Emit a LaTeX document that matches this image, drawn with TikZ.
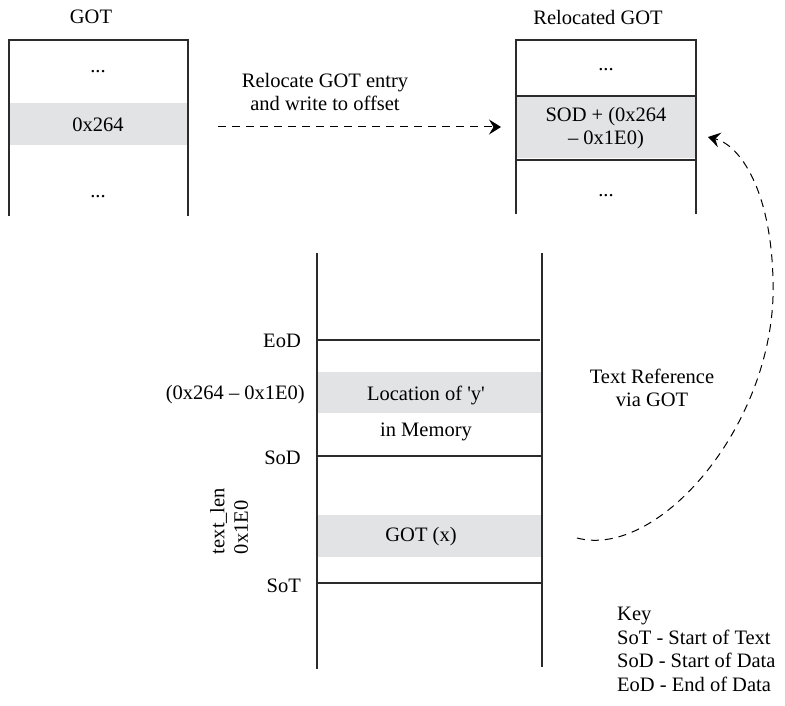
\documentclass[tikz,border=0pt]{standalone}
\usepackage{fontspec}
\setmainfont{Liberation Serif}
\newfontfamily\plainq{Liberation Serif}
\usetikzlibrary{arrows.meta}
\definecolor{lc}{HTML}{2B2B2B}
\definecolor{bandgray}{HTML}{E2E3E4}
\begin{document}
\begin{tikzpicture}[x=1pt,y=-1pt,
  wall/.style={draw=lc,line width=1.1pt},
  band/.style={fill=bandgray},
  lbl/.style={font=\fontsize{20.5}{23.5}\selectfont,inner sep=0pt,align=center,text=black},
  lblr/.style={lbl,anchor=east},
  lbll/.style={lbl,anchor=west,align=left},
  dasharrow/.style={draw=black,line width=1pt,dash pattern=on 8pt off 6pt,
    -{Stealth[length=12pt,width=15pt,inset=4.5pt]}}]
\useasboundingbox (0,0) rectangle (785,706);

% ---------- GOT ----------
\fill[band] (9,103) rectangle (188,145);
\draw[wall] (9,216) -- (9,40) -- (188,40) -- (188,216);
\node[lbl] (gotT) at (91,17) {GOT};
\node[lbl] (gotD1) at (98,72) {...};
\node[lbl] (gotE) at (98,125) {0x264};
\node[lbl] (gotD2) at (98,197) {...};

% ---------- Relocated GOT ----------
\fill[band] (516,96) rectangle (696,158);
\draw[wall] (516,214) -- (516,40) -- (696,40) -- (696,214);
\draw[wall] (516,96) -- (696,96);
\draw[wall] (516,160) -- (696,160);
\node[lbl] (rgotT) at (598,17) {Relocated GOT};
\node[lbl] (rgotD1) at (606,70) {...};
\node[lbl] (rgotE) at (606,128) {SOD + (0x264\\– 0x1E0)};
\node[lbl] (rgotD2) at (606,196) {...};

% ---------- relocate arrow ----------
\node[lbl] (reloc) at (325,92) {Relocate GOT entry\\and write to offset};
\coordinate (relS) at (218,127);
\coordinate (relE) at (501,127);
\draw[dasharrow] (relS) -- (relE);

% ---------- Memory ----------
\fill[band] (317,372) rectangle (542,413);
\fill[band] (317,515) rectangle (542,557);
\draw[wall] (317,253) -- (317,669);
\draw[wall] (542,253) -- (542,667);
\draw[wall] (317,340) -- (540,340);
\draw[wall] (317,456) -- (541,456);
\draw[wall] (317,583) -- (541,583);
\node[lblr] (eod) at (301,341) {EoD};
\node[lblr] (off) at (305,395) {(0x264 – 0x1E0)};
\node[lblr] (sod) at (301,458) {SoD};
\node[lblr] (sot) at (301,586) {SoT};
\node[lbl] (locy) at (426,395) {Location of {\plainq'}y{\plainq'}};
\node[lbl] (inmem) at (426,432) {in Memory};
\node[lbl] (gotx) at (421,537) {GOT (x)};
\node[lbl,rotate=90,align=left] (tlen) at (229,521) {text\_len\\0x1E0};

% ---------- Text reference arrow ----------
\node[lbl] (tref) at (652,388) {Text Reference\\via GOT};
\coordinate (trS) at (577,538);
\coordinate (trE) at (708,137);
\draw[dasharrow] (trS) .. controls (660,560) and (778,420) .. (773,280)
  .. controls (771,190) and (740,145) .. (trE);

% ---------- Key ----------
\node[lbll,anchor=north west] (key) at (617,607) {Key\\SoT - Start of Text\\SoD - Start of Data\\EoD - End of Data};
\end{tikzpicture}
\end{document}
